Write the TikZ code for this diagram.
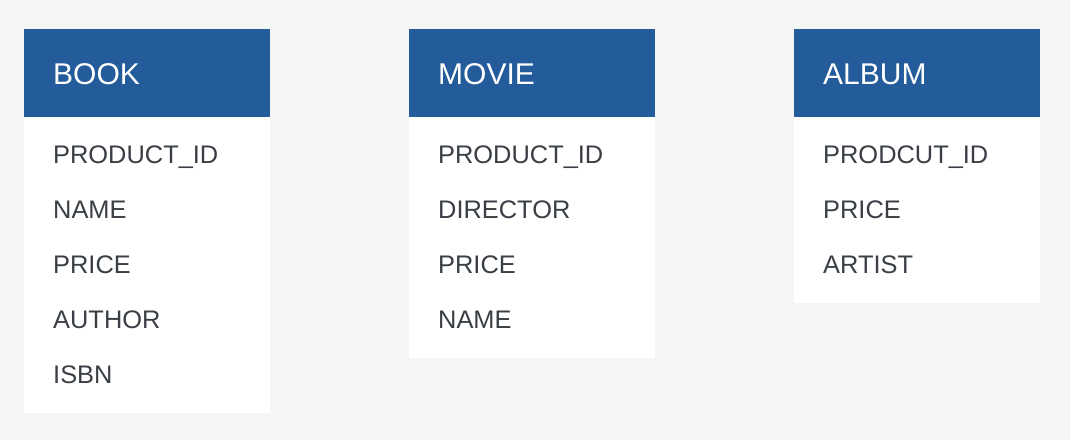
\documentclass[tikz,border=0pt]{standalone}
\usepackage{fontspec}
\setmainfont{Liberation Sans}
\definecolor{bgc}{HTML}{F4F5F5}
\definecolor{hdr}{HTML}{245B9A}
\definecolor{txt}{HTML}{3A3F45}
\begin{document}
\begin{tikzpicture}[x=1pt,y=-1pt,
  hdrbox/.style={fill=hdr,draw=none},
  bodybox/.style={fill=white,draw=none},
  hdrtext/.style={anchor=base west,inner sep=0pt,text=white,font=\fontsize{30}{36}\selectfont},
  fieldtext/.style={anchor=base west,inner sep=0pt,text=txt,font=\fontsize{25.4}{30}\selectfont}]
\fill[bgc] (0,0) rectangle (1070,440);
\useasboundingbox (0,0) rectangle (1070,440);
% BOOK
\fill[bodybox] (24,117) rectangle (270,413);
\fill[hdrbox] (24,29) rectangle (270,117);
\node[hdrtext] (bookh) at (53,84) {BOOK};
\node[fieldtext] (book1) at (53,163) {PRODUCT\_ID};
\node[fieldtext] (book2) at (53,218) {NAME};
\node[fieldtext] (book3) at (53,273) {PRICE};
\node[fieldtext] (book4) at (53,328) {AUTHOR};
\node[fieldtext] (book5) at (53,383) {ISBN};
% MOVIE
\fill[bodybox] (409,117) rectangle (655,358);
\fill[hdrbox] (409,29) rectangle (655,117);
\node[hdrtext] (movieh) at (438,84) {MOVIE};
\node[fieldtext] (movie1) at (438,163) {PRODUCT\_ID};
\node[fieldtext] (movie2) at (438,218) {DIRECTOR};
\node[fieldtext] (movie3) at (438,273) {PRICE};
\node[fieldtext] (movie4) at (438,328) {NAME};
% ALBUM
\fill[bodybox] (794,117) rectangle (1040,303);
\fill[hdrbox] (794,29) rectangle (1040,117);
\node[hdrtext] (albumh) at (823,84) {ALBUM};
\node[fieldtext] (album1) at (823,163) {PRODCUT\_ID};
\node[fieldtext] (album2) at (823,218) {PRICE};
\node[fieldtext] (album3) at (823,273) {ARTIST};
\end{tikzpicture}
\end{document}
